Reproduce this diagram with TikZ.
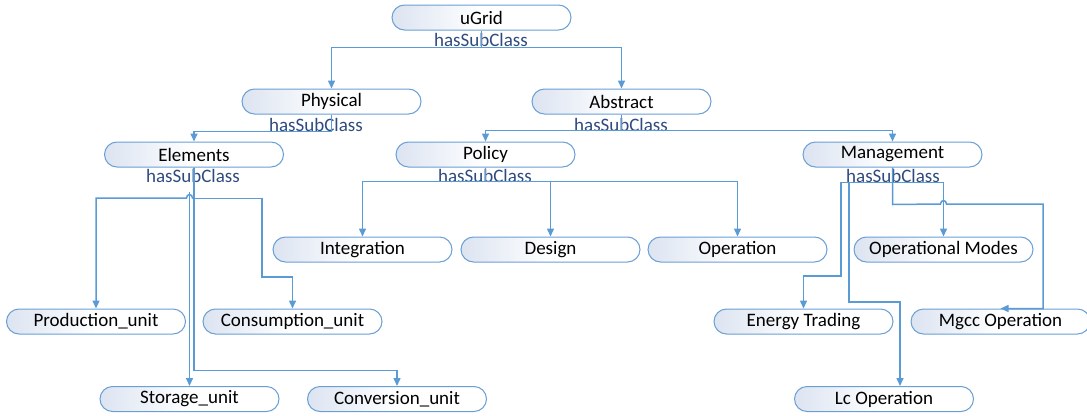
\documentclass[tikz,border=0pt]{standalone}
\usepackage{fontspec}
\setmainfont{Carlito}
\usetikzlibrary{arrows.meta}
\definecolor{linec}{HTML}{5B9BD5}
\definecolor{nodeb}{HTML}{6A9FD6}
\definecolor{nodef}{HTML}{DCE4F1}
\definecolor{labc}{HTML}{2F4A7E}
\tikzset{
  cls/.style={rectangle, rounded corners=12.5pt, draw=nodeb, line width=1pt,
    left color=nodef, right color=white, middle color=white, minimum width=179pt, minimum height=25pt,
    inner sep=0pt, font=\fontsize{19}{21}\selectfont, text=black},
  rel/.style={font=\fontsize{19}{21}\selectfont, text=labc, inner sep=0pt},
  conn/.style={draw=linec, line width=1.5pt, -{Triangle[length=8pt,width=7pt]}}
}
\begin{document}
\begin{tikzpicture}[x=1pt,y=-1pt]
\useasboundingbox (0,0) rectangle (1087,415);
% nodes
\node[cls] (ugrid) at (481.5,17.5) {uGrid};
\node[cls] (physical) at (331.5,101.5) {Physical};
\node[cls] (abstract) at (621.5,101.5) {Abstract};
\node[cls] (elements) at (194,154.5) {Elements};
\node[cls] (policy) at (485.5,154.5) {Policy};
\node[cls] (management) at (892.5,154.5) {Management};
\node[cls] (integration) at (362.5,249.5) {Integration};
\node[cls] (design) at (550.5,249.5) {Design};
\node[cls] (operation) at (737.5,249.5) {Operation};
\node[cls] (opmodes) at (943.5,249.5) {Operational Modes};
\node[cls] (production) at (96,321.5) {Production\_unit};
\node[cls] (consumption) at (292.5,321.5) {Consumption\_unit};
\node[cls] (energy) at (803.5,321.5) {Energy Trading};
\node[cls] (mgcc) at (1000.5,321.5) {Mgcc Operation};
\node[cls] (storage) at (189.5,399) {Storage\_unit};
\node[cls] (conversion) at (397,399) {Conversion\_unit};
\node[cls] (lc) at (884,399) {Lc Operation};
% relation labels
\node[rel] (l1) at (481,40) {hasSubClass};
\node[rel] (l2) at (316,125) {hasSubClass};
\node[rel] (l3) at (621,125) {hasSubClass};
\node[rel] (l4) at (193,175.5) {hasSubClass};
\node[rel] (l5) at (485,175.5) {hasSubClass};
\node[rel] (l6) at (893,175.5) {hasSubClass};
% connectors
\draw[conn] (ugrid.south) -- ++(0,17) -| (physical.north);
\draw[conn] (ugrid.south) -- ++(0,17) -| (abstract.north);
\draw[conn] (physical.south) -- ++(0,17) -| (elements.north);
\draw[conn] (abstract.south) -- ++(0,16) -| (policy.north);
\draw[conn] (abstract.south) -- ++(0,16) -| (management.north);
% Elements
\coordinate (st) at (189.5,192);
\draw[conn] (elements.south) -- ++(0,31) -- (192.5,198) .. controls (192.5,193.5) and (186.5,193.5) .. (186.5,198) -| (production.north);
\draw[conn] (elements.south) -- ++(0,31) -| (262,277) -| (consumption.north);
\draw[conn] (elements.south) -- ++(0,203) -| (conversion.north);
\draw[conn] (st) -- (storage.north);
% Policy
\draw[conn] (policy.south) -- ++(0,14) -| (integration.north);
\draw[conn] (policy.south) -- ++(0,14) -| (design.north);
\draw[conn] (policy.south) -- ++(0,14) -| (operation.north);
% Management
\draw[conn] (management.south) -- ++(0,15) -| (opmodes.north);
\draw[conn] (management.south) -- ++(0,15) -| (841,276) -| (energy.north);
\draw[conn] (management.south) -- ++(0,15) -| (849,302) -| ([xshift=16pt]lc.north);
\draw[conn] (management.south) -- ++(0,37) -- (940.5,204) .. controls (940.5,199.5) and (946.5,199.5) .. (946.5,204) -- (1043,204) |- (mgcc.north);
\end{tikzpicture}
\end{document}
